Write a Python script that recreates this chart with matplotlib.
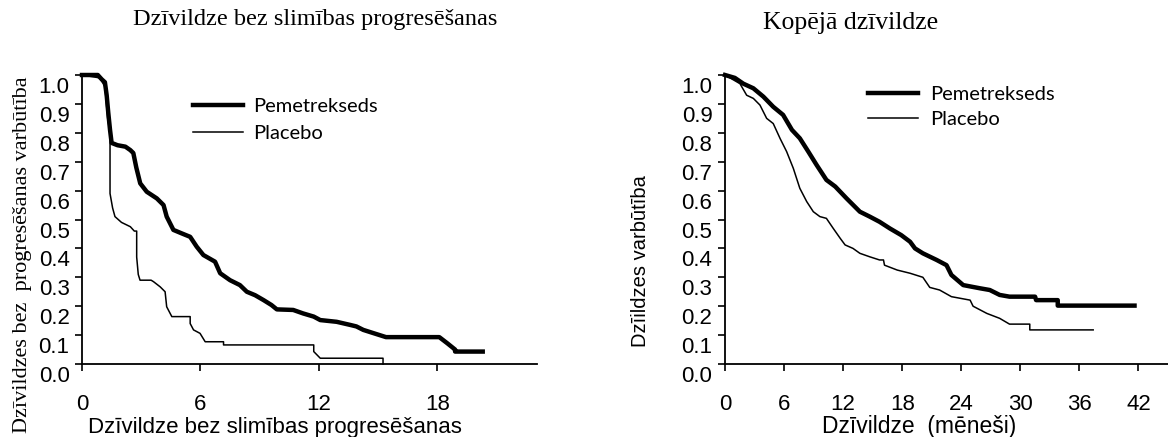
import numpy as np
import matplotlib
matplotlib.use('Agg')
from matplotlib import pyplot as plt
from matplotlib import transforms

# Dzīvildze bez slimības progresēšanas (mēneši, varbūtība), nolasīts pa līknes kontūru
pfs_pem_t = [0, 0.8, 1.0, 1.16, 1.25, 1.33, 1.42, 1.5, 1.8, 2.2, 2.45, 2.6, 2.75, 2.95, 3.28, 3.79,
             4.13, 4.29, 4.63, 5.05, 5.48, 5.81, 6.15, 6.74, 7.0, 7.5, 8.0, 8.35, 8.77, 9.2, 9.6,
             9.87, 10.7, 11.2, 11.74, 12.07, 12.9, 13.6, 13.9, 14.25, 14.8, 15.4, 18.1, 18.5, 18.9,
             18.9, 20.3]
pfs_pem_s = [1.0, 1.0, 0.985, 0.975, 0.93, 0.87, 0.81, 0.765, 0.757, 0.752, 0.74, 0.73, 0.68, 0.625,
             0.596, 0.573, 0.55, 0.51, 0.464, 0.452, 0.44, 0.406, 0.377, 0.354, 0.314, 0.29, 0.273,
             0.25, 0.238, 0.221, 0.204, 0.189, 0.187, 0.175, 0.164, 0.152, 0.146, 0.135, 0.13,
             0.118, 0.106, 0.093, 0.093, 0.072, 0.05, 0.043, 0.043]
pfs_pla_t = [0, 0.9, 1.16, 1.3, 1.42, 1.42, 1.55, 1.67, 2.0, 2.45, 2.65, 2.77, 2.77, 2.85, 2.94,
             3.5, 3.62, 3.96, 4.21, 4.29, 4.55, 5.48, 5.48, 5.65, 5.98, 6.24, 7.17, 7.17, 11.74,
             11.74, 12.07, 15.25, 15.25]
pfs_pla_s = [1.0, 0.99, 0.96, 0.85, 0.80, 0.59, 0.54, 0.51, 0.49, 0.475, 0.46, 0.46, 0.37, 0.31,
             0.29, 0.29, 0.285, 0.267, 0.25, 0.198, 0.164, 0.164, 0.14, 0.118, 0.106, 0.077, 0.077,
             0.066, 0.066, 0.043, 0.02, 0.02, 0.0]

# Kopējā dzīvildze
os_pem_t = [0, 1.0, 1.86, 2.88, 3.9, 4.9, 5.9, 6.8, 7.6, 8.46, 9.3, 10.3, 11.2, 12.35, 13.7, 14.7,
            15.7, 16.75, 17.9, 18.8, 19.3, 20.1, 21.5, 22.5, 23.0, 24.2, 25.9, 26.9, 27.9, 28.9,
            31.5, 31.6, 33.8, 33.8, 41.6]
os_pem_s = [1.0, 0.99, 0.97, 0.954, 0.925, 0.89, 0.862, 0.81, 0.781, 0.735, 0.689, 0.637, 0.614,
            0.573, 0.527, 0.51, 0.492, 0.469, 0.446, 0.423, 0.4, 0.383, 0.36, 0.342, 0.308, 0.273,
            0.262, 0.256, 0.239, 0.233, 0.233, 0.221, 0.221, 0.202, 0.202]
os_pla_t = [0, 1.52, 2.2, 2.88, 3.55, 4.23, 4.9, 5.6, 6.26, 6.94, 7.6, 8.3, 8.97, 9.64, 10.3, 11.0,
            11.7, 12.2, 13.0, 13.7, 14.7, 15.7, 16.1, 16.2, 17.5, 18.8, 20.1, 20.8, 21.8, 23.0,
            24.9, 25.2, 26.6, 27.9, 28.9, 30.96, 30.96, 37.4]
os_pla_s = [1.0, 0.97, 0.93, 0.919, 0.896, 0.85, 0.832, 0.78, 0.735, 0.677, 0.608, 0.562, 0.527,
            0.51, 0.504, 0.469, 0.435, 0.412, 0.4, 0.383, 0.371, 0.36, 0.36, 0.342, 0.325, 0.314,
            0.30, 0.265, 0.256, 0.233, 0.221, 0.2, 0.175, 0.158, 0.138, 0.138, 0.118, 0.118]

labels = ['Pemetrekseds', 'Placebo']
yticks = np.round(np.arange(0, 1.01, 0.1), 1)
pfs_xticks = [0, 6, 12, 18]
os_xticks = [0, 6, 12, 18, 24, 30, 36, 42]

W, H = 1168, 437
fig = plt.figure(figsize=(W / 100, H / 100), dpi=100)
ax1 = fig.add_axes([82 / W, 1 - 364 / H, 455 / W, 289 / H])
ax2 = fig.add_axes([725 / W, 1 - 364 / H, 443 / W, 289 / H])

sans = 'Liberation Sans'
serif = 'Liberation Serif'
leg_font = {'family': 'Lato', 'size': 14.5}


def setup(ax, xmax, xticks):
    ax.set_xlim(0, xmax)
    ax.set_ylim(0, 1.0)
    for s in ['top', 'right']:
        ax.spines[s].set_visible(False)
    for s in ['left', 'bottom']:
        ax.spines[s].set_linewidth(1.3)
    ax.set_yticks(yticks)
    ax.set_yticklabels(['%.1f' % v for v in yticks], fontsize=16, family=sans)
    ax.set_xticks(xticks)
    ax.set_xticklabels([str(v) for v in xticks], fontsize=16, family=sans)
    ax.tick_params(axis='y', direction='out', length=5, width=1.2, pad=4)
    ax.tick_params(axis='x', direction='out', length=5, width=1.2, pad=16.5)
    # skalas skaitļi nobīdīti uz leju kā oriģinālā
    off = transforms.ScaledTranslation(0, -0.1, fig.dpi_scale_trans)
    for lab in ax.get_yticklabels():
        lab.set_transform(lab.get_transform() + off)


# kreisais grafiks
ax1.plot(pfs_pem_t, pfs_pem_s, color='black', lw=3.2, clip_on=False, label=labels[0])
ax1.plot(pfs_pla_t, pfs_pla_s, color='black', lw=1.1, clip_on=False, label=labels[1])
setup(ax1, 23.05, pfs_xticks)
ax1.set_xlabel('Dzīvildze bez slimības progresēšanas', fontsize=16, family=sans, va='baseline')
ax1.xaxis.set_label_coords(0.424, -0.239)
ax1.set_ylabel('Dzīvildzes bez  progresēšanas varbūtība', fontsize=16, family=serif,
               rotation=90, va='center', ha='center')
ax1.yaxis.set_label_coords(-0.131, 0.377)
ax1.legend(loc='upper left', bbox_to_anchor=(0.244, 0.92), frameon=False, borderpad=0,
           borderaxespad=0, handlelength=2.5, handletextpad=0.5, labelspacing=0.5, prop=leg_font)

# labais grafiks
ax2.plot(os_pem_t, os_pem_s, color='black', lw=3.2, clip_on=False, label=labels[0])
ax2.plot(os_pla_t, os_pla_s, color='black', lw=1.1, clip_on=False, label=labels[1])
setup(ax2, 45, os_xticks)
ax2.set_xlabel('Dzīvildze  (mēneši)', fontsize=16.5, family=sans, va='baseline')
ax2.xaxis.set_label_coords(0.439, -0.239)
ax2.set_ylabel('Dzīildzes varbūtība', fontsize=14.5, family=sans,
               rotation=90, va='center', ha='center')
ax2.yaxis.set_label_coords(-0.191, 0.356)
ax2.legend(loc='upper left', bbox_to_anchor=(0.323, 0.963), frameon=False, borderpad=0,
           borderaxespad=0, handlelength=2.5, handletextpad=0.6, labelspacing=0.4, prop=leg_font)

fig.text(315 / W, 1 - 25 / H, 'Dzīvildze bez slimības progresēšanas', family=serif, fontsize=17.5,
         ha='center', va='baseline')
fig.text(851 / W, 1 - 29 / H, 'Kopējā dzīvildze', family=serif, fontsize=18.5,
         ha='center', va='baseline')

fig.savefig('out.png', dpi=100)
